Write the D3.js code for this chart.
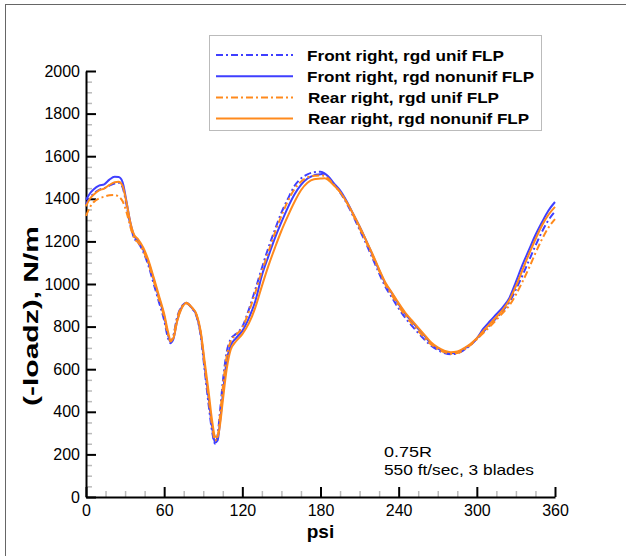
<!DOCTYPE html>
<html>
<head>
<meta charset="utf-8">
<script src="https://cdn.jsdelivr.net/npm/d3@7"></script>
<style>
  body { margin: 0; background: #fff; }
  text { font-family: "Liberation Sans", Arial, Helvetica, sans-serif; fill: #000; }
  .axis path, .axis line { stroke: #000; stroke-width: 2; }
  .minor line { stroke: #bbb; stroke-width: 1.5; }
  .minor path { display: none; }
</style>
</head>
<body>
<div id="chart"></div>
<script>
// azimuth grid (deg) shared by all four curves
var psi = [0, 3, 6, 10, 14, 18, 22, 25, 28, 31, 34, 37, 40, 44, 48, 52, 56, 60, 63, 65, 67, 70, 73, 77, 81, 85, 88, 91, 94, 97, 99, 101, 103, 105, 108, 111, 115, 120, 125, 130, 135, 140, 145, 150, 155, 160, 165, 170, 175, 180, 183, 186, 190, 195, 200, 205, 210, 215, 220, 225, 230, 235, 240, 245, 250, 255, 260, 265, 270, 275, 280, 285, 290, 295, 300, 305, 310, 315, 320, 325, 330, 335, 340, 345, 350, 355, 360];

// Front right, rgd unif FLP
var frontUnif = [1375, 1405, 1425, 1442, 1450, 1462, 1472, 1475, 1455, 1375, 1280, 1215, 1195, 1150, 1085, 1000, 915, 830, 745, 722, 755, 845, 890, 910, 888, 845, 760, 600, 440, 300, 250, 290, 410, 540, 680, 740, 765, 800, 880, 975, 1075, 1170, 1255, 1335, 1400, 1460, 1495, 1515, 1525, 1527, 1520, 1500, 1470, 1430, 1380, 1320, 1255, 1190, 1120, 1050, 985, 935, 885, 842, 805, 770, 738, 710, 690, 676, 670, 675, 690, 712, 742, 775, 808, 840, 875, 915, 975, 1040, 1110, 1180, 1245, 1300, 1340];

// Front right, rgd nonunif FLP
var frontNonunif = [1395, 1425, 1445, 1462, 1468, 1490, 1503, 1502, 1480, 1390, 1290, 1225, 1205, 1160, 1100, 1020, 935, 850, 760, 725, 740, 830, 885, 912, 890, 850, 770, 620, 470, 320, 255, 265, 360, 480, 640, 710, 745, 780, 840, 920, 1040, 1130, 1215, 1290, 1360, 1420, 1465, 1495, 1510, 1515, 1518, 1505, 1475, 1440, 1390, 1330, 1270, 1205, 1135, 1065, 1000, 955, 905, 860, 825, 790, 755, 720, 698, 682, 675, 678, 695, 715, 745, 790, 825, 858, 892, 935, 1010, 1090, 1160, 1230, 1290, 1345, 1385];

// Rear right, rgd unif FLP
var rearUnif = [1320, 1360, 1385, 1402, 1410, 1417, 1418, 1410, 1390, 1340, 1270, 1215, 1195, 1155, 1095, 1015, 930, 845, 760, 730, 755, 840, 888, 912, 890, 850, 770, 620, 470, 325, 265, 285, 390, 515, 660, 730, 760, 795, 870, 960, 1060, 1150, 1240, 1320, 1390, 1445, 1480, 1500, 1508, 1510, 1508, 1495, 1468, 1432, 1385, 1325, 1262, 1198, 1130, 1062, 995, 945, 895, 852, 815, 780, 746, 716, 695, 680, 673, 676, 690, 712, 740, 770, 800, 832, 865, 900, 950, 1010, 1075, 1145, 1210, 1265, 1305];

// Rear right, rgd nonunif FLP
var rearNonunif = [1365, 1400, 1420, 1440, 1448, 1465, 1478, 1480, 1462, 1385, 1290, 1230, 1210, 1170, 1110, 1030, 945, 860, 775, 735, 745, 825, 880, 910, 892, 855, 780, 640, 500, 350, 285, 280, 345, 450, 600, 690, 730, 765, 815, 890, 990, 1085, 1170, 1250, 1320, 1385, 1440, 1475, 1492, 1495, 1497, 1488, 1465, 1432, 1385, 1330, 1270, 1205, 1140, 1070, 1005, 958, 910, 866, 830, 795, 760, 725, 702, 687, 680, 683, 698, 718, 745, 780, 812, 845, 880, 925, 990, 1065, 1140, 1210, 1275, 1325, 1362];

var xTicks = [0, 60, 120, 180, 240, 300, 360];
var yTicks = [0, 200, 400, 600, 800, 1000, 1200, 1400, 1600, 1800, 2000];

var seriesNames = ["Front right, rgd unif FLP", "Front right, rgd nonunif FLP", "Rear right, rgd unif FLP", "Rear right, rgd nonunif FLP"];
var seriesValues = [frontUnif, frontNonunif, rearUnif, rearNonunif];
var seriesColors = ["#3f3fff", "#3f3fff", "#ff8a1c", "#ff8a1c"];
var seriesDash = ["7,3,2,3", null, "7,3,2,3", null];
var legendWidths = [197, 227, 191, 221];

var svgWidth = 626;
var svgHeight = 556;

var svg = d3.select("#chart")
  .append("svg")
  .attr("width", svgWidth)
  .attr("height", svgHeight);

// frame lines left over from the original page crop
svg.append("line")
  .attr("x1", 5).attr("x2", svgWidth).attr("y1", 4.5).attr("y2", 4.5)
  .attr("stroke", "#666").attr("stroke-width", 1);
svg.append("line")
  .attr("x1", 5.5).attr("x2", 5.5).attr("y1", 4).attr("y2", svgHeight)
  .attr("stroke", "#666").attr("stroke-width", 1);

// scales
var xScale = d3.scaleLinear().domain([0, 360]).range([86, 555]);
var yScale = d3.scaleLinear().domain([0, 2000]).range([497, 71]);

// minor ticks first so the axis lines sit on top
svg.append("g")
  .attr("class", "minor")
  .attr("transform", "translate(0, 497)")
  .call(d3.axisBottom(xScale)
    .tickValues(d3.range(0, 361, 15).filter(d => d % 60 !== 0))
    .tickSize(-6).tickFormat(""));

svg.append("g")
  .attr("class", "minor")
  .attr("transform", "translate(86, 0)")
  .call(d3.axisLeft(yScale)
    .tickValues(d3.range(0, 2001, 50).filter(d => d % 200 !== 0))
    .tickSize(-6).tickFormat(""));

// major axes
var xAxis = svg.append("g")
  .attr("class", "axis")
  .attr("transform", "translate(0, 497)")
  .call(d3.axisBottom(xScale).tickValues(xTicks).tickFormat(d3.format("d"))
    .tickSize(-10).tickSizeOuter(0).tickPadding(8));

var yAxis = svg.append("g")
  .attr("class", "axis")
  .attr("transform", "translate(86, 0)")
  .call(d3.axisLeft(yScale).tickValues(yTicks).tickFormat(d3.format("d"))
    .tickSize(-10).tickSizeOuter(0).tickPadding(6));

svg.selectAll(".axis text")
  .style("font-size", "16px")
  .style("font-family", "'Liberation Sans', Arial, sans-serif");

// the curves, in legend order so the rear ones end up on top
var line = d3.line()
  .x(d => xScale(d[0]))
  .y(d => yScale(d[1]))
  .curve(d3.curveMonotoneX);

seriesValues.forEach(function(vals, i) {
  svg.append("path")
    .datum(psi.map((p, j) => [p, vals[j]]))
    .attr("fill", "none")
    .attr("stroke", seriesColors[i])
    .attr("stroke-width", 2)
    .attr("stroke-dasharray", seriesDash[i])
    .attr("d", line);
});

// axis titles
svg.append("text")
  .attr("x", 320.5)
  .attr("y", 538)
  .attr("text-anchor", "middle")
  .style("font-size", "19px")
  .style("font-weight", "bold")
  .text("psi");

svg.append("text")
  .attr("transform", "translate(38, 316) rotate(-90)")
  .attr("text-anchor", "middle")
  .attr("textLength", 180)
  .attr("lengthAdjust", "spacingAndGlyphs")
  .style("font-size", "20px")
  .style("font-weight", "bold")
  .text("(-loadz), N/m");

// legend
var legend = svg.append("g");

legend.append("rect")
  .attr("x", 209.5).attr("y", 35.5)
  .attr("width", 332).attr("height", 95)
  .attr("fill", "#fff")
  .attr("stroke", "#bbb")
  .attr("stroke-width", 1);

seriesNames.forEach(function(name, i) {
  var ly = 55 + i * 21.2;
  legend.append("line")
    .attr("x1", 216).attr("x2", 293)
    .attr("y1", ly).attr("y2", ly)
    .attr("stroke", seriesColors[i])
    .attr("stroke-width", 2)
    .attr("stroke-dasharray", seriesDash[i]);
  legend.append("text")
    .attr("x", i < 2 ? 307 : 308)
    .attr("y", ly + 5.5)
    .attr("textLength", legendWidths[i])
    .attr("lengthAdjust", "spacingAndGlyphs")
    .style("font-size", "15px")
    .style("font-weight", "bold")
    .text(name);
});

// annotation
svg.append("text")
  .attr("x", 384).attr("y", 457)
  .attr("textLength", 48)
  .attr("lengthAdjust", "spacingAndGlyphs")
  .style("font-size", "15px")
  .text("0.75R");

svg.append("text")
  .attr("x", 384).attr("y", 474.5)
  .attr("textLength", 150)
  .attr("lengthAdjust", "spacingAndGlyphs")
  .style("font-size", "15px")
  .text("550 ft/sec, 3 blades");
</script>
</body>
</html>
